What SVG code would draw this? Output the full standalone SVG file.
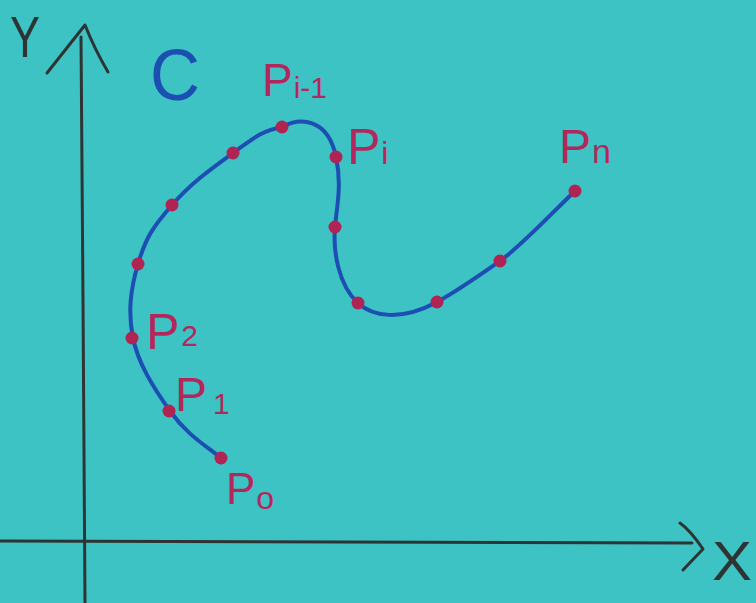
<svg xmlns="http://www.w3.org/2000/svg" width="756" height="603" viewBox="0 0 756 603">
<style>
.axis{fill:none;stroke:#2e3434;stroke-width:3;stroke-linecap:round;stroke-linejoin:round}
.curve{fill:none;stroke:#1d4fb3;stroke-width:4;stroke-linecap:round}
.dot{fill:#b02454}
.lbl{font-family:"Liberation Sans",Arial,sans-serif;fill:#b3285c}
.ax{font-family:"Liberation Sans",Arial,sans-serif;fill:#2e3434}
</style>
<rect width="756" height="603" fill="#3ec3c4"/>
<g id="axes">
<path class="axis" d="M81,37 L83,300 L85,603"/>
<path class="axis" d="M47,73 L85,25 Q95,50 108,72"/>
<path class="axis" d="M0,541 L692,543"/>
<path class="axis" d="M680,523 Q690,530 703,549 L683,570"/>
<text class="ax" x="10" y="57" font-size="58" textLength="30" lengthAdjust="spacingAndGlyphs">Y</text>
<text class="ax" x="712" y="580" font-size="56" textLength="40" lengthAdjust="spacingAndGlyphs">X</text>
</g>
<g id="curve">
<path class="curve" d="M221,458 C205,445 187,435 170,411 C153,387 138,363 133,338 C128,313 130,291 138,264 C146,237 153,227 172,205 C191,183 211,169 233,153 C255,137 262,131 282,127 C300,117 328,118 336,157 C342,185 337,205 335,227 C333,250 338,285 358,303 C372,316 400,322 437,302 C459,290 480,275 500,261 C520,247 550,215 575,191"/>
<text x="150" y="100" font-size="72" font-family="Liberation Sans, Arial, sans-serif" fill="#1d4fb3" textLength="50" lengthAdjust="spacingAndGlyphs">C</text>
</g>
<g id="points">
<circle class="dot" cx="221" cy="458" r="6.5"/>
<circle class="dot" cx="169" cy="411" r="6.5"/>
<circle class="dot" cx="132" cy="338" r="6.5"/>
<circle class="dot" cx="138" cy="264" r="6.5"/>
<circle class="dot" cx="172" cy="205" r="6.5"/>
<circle class="dot" cx="233" cy="153" r="6.5"/>
<circle class="dot" cx="282" cy="127" r="6.5"/>
<circle class="dot" cx="336" cy="157" r="6.5"/>
<circle class="dot" cx="335" cy="227" r="6.5"/>
<circle class="dot" cx="358" cy="303" r="6.5"/>
<circle class="dot" cx="437" cy="302" r="6.5"/>
<circle class="dot" cx="500" cy="261" r="6.5"/>
<circle class="dot" cx="575" cy="191" r="6.5"/>
</g>
<g id="labels">
<text class="lbl" x="262" y="96" font-size="46">P<tspan font-size="30" dx="1" dy="2">i-1</tspan></text>
<text class="lbl" x="347" y="164" font-size="50">P<tspan font-size="32" dx="1">i</tspan></text>
<text class="lbl" x="559" y="163" font-size="48">P<tspan font-size="34" dx="1">n</tspan></text>
<text class="lbl" x="146" y="349" font-size="50">P<tspan font-size="30" dx="2" dy="-3">2</tspan></text>
<text class="lbl" x="175" y="411" font-size="48">P<tspan font-size="30" dx="6" dy="3">1</tspan></text>
<text class="lbl" x="226" y="504" font-size="44">P<tspan font-size="32" dx="1" dy="5">o</tspan></text>
</g>
</svg>
